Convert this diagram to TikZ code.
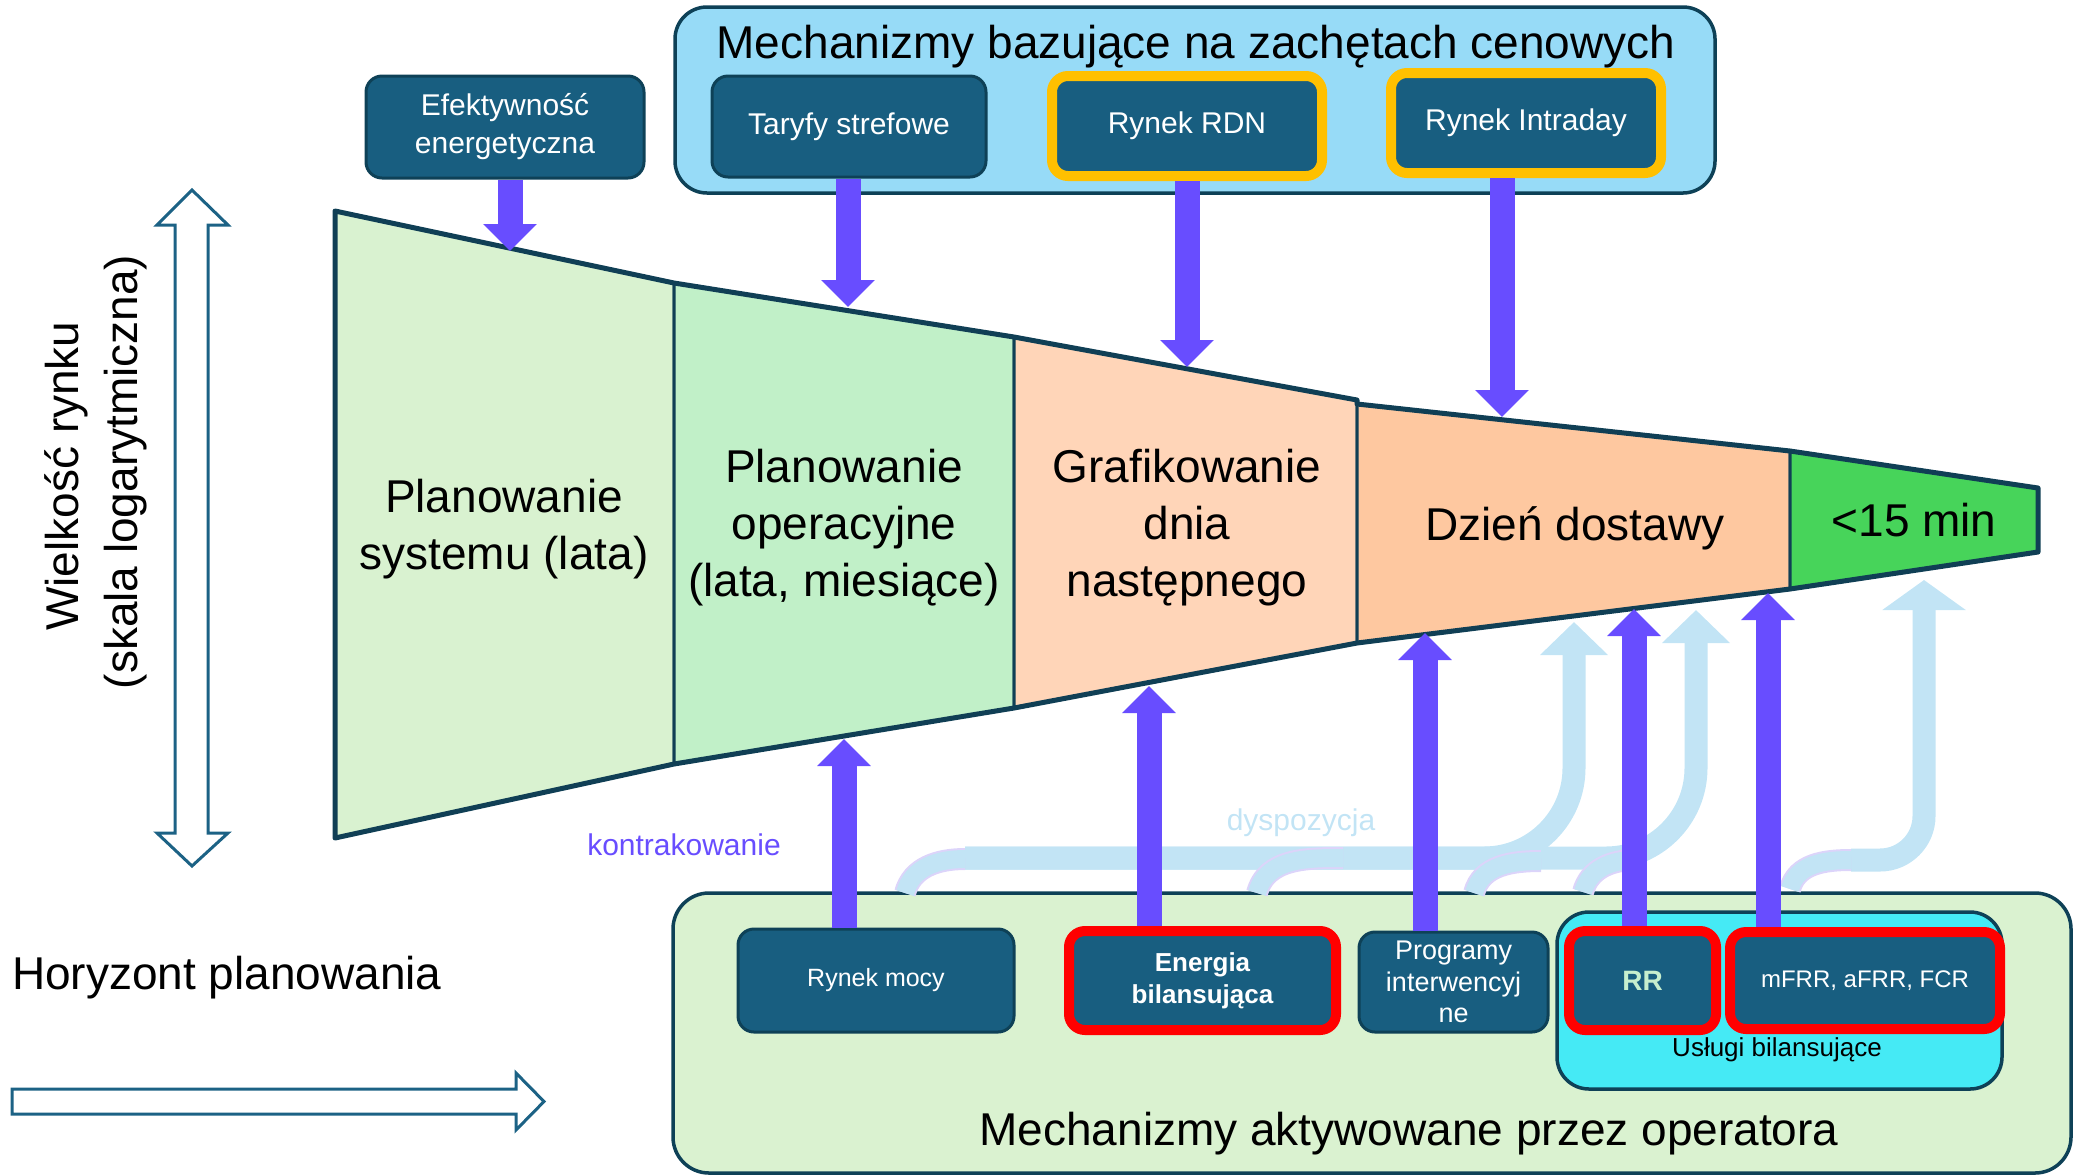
\documentclass[tikz,border=0pt]{standalone}
\usepackage{fontspec}
\setmainfont{Liberation Sans}
\usetikzlibrary{arrows.meta}

\definecolor{boxblue}{HTML}{185E80}
\definecolor{boxedge}{HTML}{0E4157}
\definecolor{topfill}{HTML}{97DBF7}
\definecolor{botfill}{HTML}{DAF2D0}
\definecolor{cyanfill}{HTML}{45EAF5}
\definecolor{arrowviolet}{HTML}{684DFF}
\definecolor{dispblue}{HTML}{C2E4F5}
\definecolor{lavender}{HTML}{DCD4FA}
\definecolor{segA}{HTML}{D9F2D0}
\definecolor{segB}{HTML}{C1F0C8}
\definecolor{segC}{HTML}{FFD5B8}
\definecolor{segD}{HTML}{FEC8A0}
\definecolor{segE}{HTML}{47D45A}
\definecolor{funneledge}{HTML}{103F55}
\definecolor{hollowedge}{HTML}{1C6285}
\definecolor{rrtext}{HTML}{C6EFCE}
\definecolor{gold}{HTML}{FFC000}

\begin{document}
\begin{tikzpicture}
  [x=0.5pt,y=-0.5pt,
   darkbox/.style={draw=boxedge, line width=1.5pt, fill=boxblue, rounded corners=8pt,
     text=white, align=center, inner sep=0pt, font=\fontsize{15}{19}\selectfont},
   goldbox/.style={darkbox, draw=gold, line width=5pt},
   redbox/.style={darkbox, draw=red, line width=5pt},
   panel/.style={draw=boxedge, line width=1.75pt, rounded corners=16pt, inner sep=0pt},
   seg/.style={draw=funneledge, line width=1.5pt, line join=round},
   bigtext/.style={font=\fontsize{23}{28.5}\selectfont},
   seglabel/.style={bigtext, align=center},
   push/.style={arrowviolet, line width=12.5pt, -{Triangle[width=26pt,length=13.5pt]}},
   disp/.style={dispblue, line width=11.5pt, rounded corners=45pt,
     -{Triangle[width=33pt,length=16.5pt]}},
   piece/.style={draw=lavender, double=dispblue, double distance=9pt, line width=1pt},
   hollow/.style={draw=hollowedge, line width=1.5pt, fill=white}]

  \useasboundingbox (0,0) rectangle (2075,1174);

  \node[panel, fill=topfill, minimum width=520pt, minimum height=93pt] (prices) at (1195,100) {};
  \node[bigtext, anchor=base] (pricest) at (1196,58) {Mechanizmy bazujące na zachętach cenowych};
  \node[panel, fill=botfill, minimum width=699pt, minimum height=140pt, rounded corners=18pt] (ops) at (1372,1033) {};
  \node[bigtext, anchor=base] (opst) at (1409,1145) {Mechanizmy aktywowane przez operatora};
  \node[panel, fill=cyanfill, minimum width=222.5pt, minimum height=88.5pt] (ub) at (1779.5,1000.5) {};
  \node[font=\fontsize{13}{16}\selectfont] (ubt) at (1777,1050) {Usługi bilansujące};

  \node[darkbox, minimum width=139pt, minimum height=51pt] (ef) at (505,127) {Efektywność\\energetyczna};
  \node[darkbox, minimum width=137pt, minimum height=50.5pt] (tar) at (849,126.5) {Taryfy strefowe};
  \node[goldbox, minimum width=135pt, minimum height=50pt] (rdn) at (1187,126) {Rynek RDN};
  \node[goldbox, minimum width=135pt, minimum height=50pt] (ida) at (1526,123) {Rynek Intraday};
  \node[darkbox, minimum width=138pt, minimum height=51.5pt, font=\fontsize{12.5}{15}\selectfont] (mocy) at (876,980.5) {Rynek mocy};
  \node[redbox, minimum width=133.5pt, minimum height=49.5pt, font=\bfseries\fontsize{13}{16}\selectfont] (eb) at (1202.5,980.5) {Energia\\bilansująca};
  \node[darkbox, minimum width=94.5pt, minimum height=50pt, font=\fontsize{13.5}{15.75}\selectfont] (pi) at (1453.5,982) {Programy\\interwencyj\\ne};
  \node[redbox, minimum width=73.5pt, minimum height=49.5pt, text=rrtext, font=\bfseries\fontsize{14}{16}\selectfont] (rr) at (1642.5,980.5) {RR};
  \node[redbox, minimum width=135pt, minimum height=48.5pt, font=\fontsize{12}{15}\selectfont] (frr) at (1865,980.5) {mFRR, aFRR, FCR};

  \filldraw[seg, fill=segA] (335,211) -- (674,283) -- (674,764) -- (335,838) -- cycle;
  \filldraw[seg, fill=segB] (674,283) -- (1014,337) -- (1014,708) -- (674,764) -- cycle;
  \filldraw[seg, fill=segC] (1014,337) -- (1357,400) -- (1357,643) -- (1014,708) -- cycle;
  \filldraw[seg, fill=segD] (1357,404) -- (1790,451) -- (1790,589) -- (1357,643) -- cycle;
  \filldraw[seg, fill=segE] (1790,451) -- (2038,488) -- (2038,552) -- (1790,589) -- cycle;
  \draw[seg, line width=2.5pt] (335,211) -- (674,283) -- (1014,337) -- (1357,400) -- (1357,404)
    -- (1790,451) -- (2038,488) -- (2038,552) -- (1790,589) -- (1357,643) -- (1014,708)
    -- (674,764) -- (335,838) -- cycle;

  \node[seglabel] (s1) at (504,529) {Planowanie\\systemu (lata)};
  \node[seglabel] (s2) at (844,528) {Planowanie\\operacyjne\\(lata, miesiące)};
  \node[seglabel] (s3) at (1187,528) {Grafikowanie\\dnia\\następnego};
  \node[seglabel] (s4) at (1575,528) {Dzień dostawy};
  \node[seglabel] (s5) at (1914,520) {<15 min};

  \node[seglabel, rotate=90] (size) at (66,476) {Wielkość rynku};
  \node[seglabel, rotate=90] (logscale) at (126,472) {(skala logarytmiczna)};
  \node[bigtext, anchor=base west] (horizon) at (5,989) {Horyzont planowania};
  \filldraw[hollow] (192,190) -- (228,225) -- (208,225) -- (208,833) -- (228,833) -- (192,866)
    -- (157,833) -- (175,833) -- (175,225) -- (157,225) -- cycle;
  \filldraw[hollow] (12,1089) -- (516,1089) -- (516,1073) -- (544,1101.5) -- (516,1130)
    -- (516,1114) -- (12,1114) -- cycle;

  \node[text=arrowviolet, font=\fontsize{15}{18}\selectfont] (contract) at (684,845) {kontrakowanie};
  \node[text=dispblue, font=\fontsize{15}{18}\selectfont] (dispatch) at (1301,823) {dyspozycja};

  \coordinate (tef) at (510,251);
  \coordinate (ttar) at (848,307);
  \coordinate (trdn) at (1187,367);
  \coordinate (tida) at (1502,417);
  \coordinate (tb1) at (844,739);
  \coordinate (tb2) at (1149,686);
  \coordinate (tb3) at (1425,633);
  \coordinate (tb4) at (1634,609);
  \coordinate (tb5) at (1768,593);
  \coordinate (la) at (1574,622);
  \coordinate (lb) at (1696,610);
  \coordinate (lc) at (1924,580);
  \coordinate (ds) at (965,858);
  \coordinate (dc) at (1851,860);

  \draw[disp] (ds) -| (la);
  \draw[disp] (ds) -| (lb);
  \draw[disp, rounded corners=22pt, -{Triangle[width=41pt,length=15pt]}] (dc) -| (lc);

  \foreach \bx/\by/\ex/\ey in {905/893/965/859, 1257/893/1343/858, 1474/893/1541/861,
                               1583/892/1635/860, 1790/889/1851/860}
    \draw[piece] (\bx,\by) to[out=75,in=180] (\ex,\ey);

  \foreach \from/\to in {ef/tef, tar/ttar, rdn/trdn, ida/tida}
    \draw[push] (\to |- \from.south) -- (\to);
  \foreach \from/\to in {mocy/tb1, eb/tb2, pi/tb3, rr/tb4, frr/tb5}
    \draw[push] (\to |- \from.north) -- (\to);
\end{tikzpicture}
\end{document}
